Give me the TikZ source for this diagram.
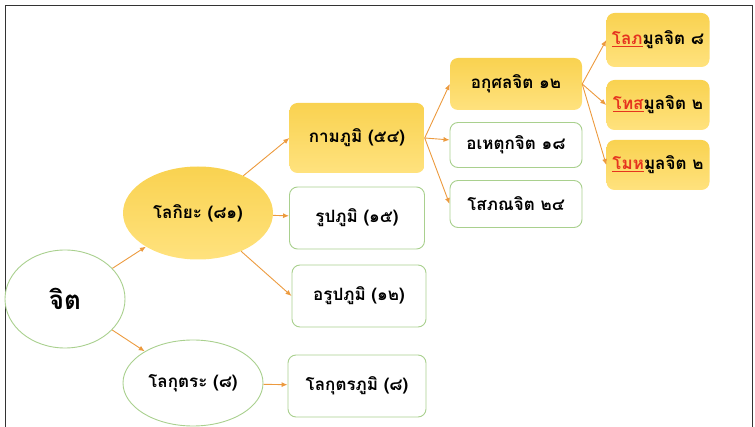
\documentclass[tikz,border=0pt]{standalone}
\usepackage{fontspec}
\newfontfamily\thaifont[Script=Thai]{Loma}
\usetikzlibrary{shapes.geometric,arrows.meta}
\definecolor{ylight}{HTML}{FFE27E}
\definecolor{ydark}{HTML}{F9D250}
\definecolor{boxgreen}{HTML}{A9D08E}
\definecolor{arroworange}{HTML}{EC9A3E}
\definecolor{markred}{HTML}{E5341F}
\newcommand{\rootmark}[1]{\textcolor{markred}{\underline{#1}}}

\begin{document}
\begin{tikzpicture}[
x=1pt,y=-1pt,
yellowbox/.style={
  rectangle, rounded corners=8pt,
  top color=ydark, bottom color=ylight,
  inner sep=0pt, font=\thaifont\bfseries\fontsize{17}{19}\selectfont
  },
whitebox/.style={
  rectangle, rounded corners=8pt,
  draw=boxgreen, line width=0.9pt, fill=white,
  inner sep=0pt, font=\thaifont\bfseries\fontsize{17}{19}\selectfont
  },
yellowoval/.style={
  ellipse, top color=ydark, bottom color=ylight,
  inner sep=0pt, font=\thaifont\bfseries\fontsize{17}{19}\selectfont
  },
whiteoval/.style={
  ellipse, draw=boxgreen, line width=0.9pt, fill=white,
  inner sep=0pt, font=\thaifont\bfseries\fontsize{17}{19}\selectfont
  },
link/.style={-{Latex[length=6pt,width=5pt]}, color=arroworange, line width=0.9pt}
]
\useasboundingbox (0,0) rectangle (755,427);
\draw[black!80, line width=1pt] (5,427) -- (5,6) -- (752,6) -- (752,427);

% ellipses
\node[whiteoval, minimum width=120pt, minimum height=98pt,
  font=\thaifont\bfseries\fontsize{26}{28}\selectfont] (jit) at (65,299) {จิต};
\node[yellowoval, minimum width=150pt, minimum height=93pt] (lokiya) at (198,213) {โลกิยะ (๘๑)};
\node[whiteoval, minimum width=140pt, minimum height=86pt] (lokuttara) at (193,383) {โลกุตระ (๘)};

% planes
\node[yellowbox, minimum width=135pt, minimum height=70pt] (kama) at (357,138) {กามภูมิ (๕๔)};
\node[whitebox, minimum width=135pt, minimum height=62pt] (rupa) at (357,218) {รูปภูมิ (๑๕)};
\node[whitebox, minimum width=134pt, minimum height=62pt] (arupa) at (359,296) {อรูปภูมิ (๑๒)};
\node[whitebox, minimum width=138pt, minimum height=62pt] (lokbhumi) at (357,386) {โลกุตรภูมิ (๘)};

% kinds of citta
\node[yellowbox, minimum width=132pt, minimum height=52pt] (akusala) at (516,84) {อกุศลจิต ๑๒};
\node[whitebox, minimum width=132pt, minimum height=45pt] (ahetuka) at (516,145) {อเหตุกจิต ๑๘};
\node[whitebox, minimum width=132pt, minimum height=47pt] (sobhana) at (516,204) {โสภณจิต ๒๔};

% roots
\node[yellowbox, minimum width=103pt, minimum height=54pt] (lobha) at (658,40) {\rootmark{โลภ}มูลจิต ๘};
\node[yellowbox, minimum width=103pt, minimum height=50pt] (dosa) at (658,105) {\rootmark{โทส}มูลจิต ๒};
\node[yellowbox, minimum width=103pt, minimum height=50pt] (moha) at (658,165) {\rootmark{โมห}มูลจิต ๒};

\path[link]
  (jit) edge (lokiya)
  (jit) edge (lokuttara)
  (lokiya) edge (kama.west)
  (lokiya) edge (rupa)
  (lokiya) edge (arupa.west)
  (lokuttara) edge (lokbhumi)
  (kama.east) edge (akusala.west)
  (kama.east) edge (ahetuka)
  (kama.east) edge (sobhana.west)
  (akusala.east) edge (lobha.west)
  (akusala.east) edge (dosa.west)
  (akusala.east) edge (moha.west);
\end{tikzpicture}
\end{document}
